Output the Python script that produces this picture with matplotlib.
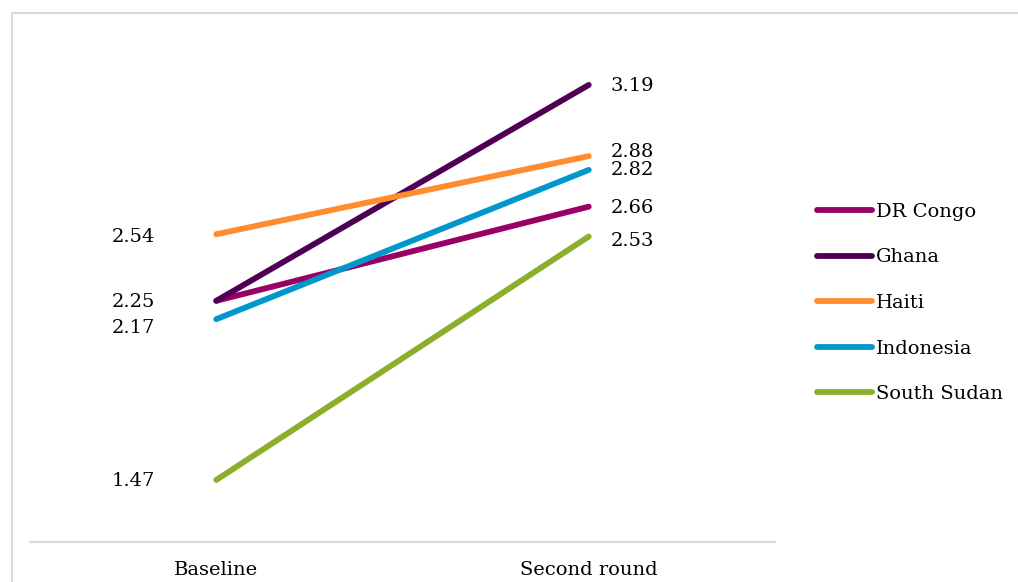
import matplotlib
matplotlib.use("Agg")
import matplotlib.pyplot as plt
from matplotlib.patches import Rectangle

plt.rcParams['font.family'] = ['DejaVu Serif']

rounds = ["Baseline", "Second round"]
countries = ["DR Congo", "Ghana", "Haiti", "Indonesia", "South Sudan"]
baseline = [2.25, 2.25, 2.54, 2.17, 1.47]
second_round = [2.66, 3.19, 2.88, 2.82, 2.53]
colors = ["#990066", "#4F0055", "#FF8C2E", "#0098CC", "#8BAF2B"]

FS = 14

# label offsets in points (dx, dy) so close values stay readable
left_offsets = {"DR Congo": None, "Ghana": (0, -1), "Haiti": (0, -2),
                "Indonesia": (0, -6), "South Sudan": (0, -1)}
right_offsets = {"DR Congo": (0, -1), "Ghana": (0, -1), "Haiti": (0, 3),
                 "Indonesia": (0, 0), "South Sudan": (0, -3)}

fig = plt.figure(figsize=(10.18, 5.82), dpi=100)
fig.patches.append(Rectangle((12 / 1018, -0.1), 1.2, 1 - 13 / 582 + 0.1,
                             transform=fig.transFigure, fill=False,
                             edgecolor="#D9D9D9", linewidth=1.5))

ax = fig.add_axes([30 / 1018, 1 - 542 / 582, 745 / 1018, (542 - 36.7) / 582])
x = [0, 1]
for name, b, s, c in zip(countries, baseline, second_round, colors):
    ax.plot(x, [b, s], color=c, linewidth=4.2, solid_capstyle="round", label=name)
    off = left_offsets[name]
    if off is not None:
        ax.annotate(f"{b:.2f}", (0, b), xytext=(-44 + off[0], off[1]),
                    textcoords="offset points", ha="right", va="center",
                    fontsize=FS)
    off = right_offsets[name]
    ax.annotate(f"{s:.2f}", (1, s), xytext=(16 + off[0], off[1]),
                textcoords="offset points", ha="left", va="center",
                fontsize=FS)

ax.set_xlim(-0.5, 1.5)
ax.set_ylim(1.2, 3.4)
ax.set_xticks(x)
ax.set_xticklabels(rounds, fontsize=FS)
ax.tick_params(axis="x", length=0, pad=14)
ax.set_yticks([])
for side in ["left", "right", "top"]:
    ax.spines[side].set_visible(False)
ax.spines["bottom"].set_color("#D9D9D9")
ax.spines["bottom"].set_linewidth(1.5)

leg = fig.legend(loc="center left", bbox_to_anchor=(809 / 1018, 1 - 303 / 582),
                 frameon=False, fontsize=FS, handlelength=2.85,
                 handletextpad=0.2, labelspacing=1.42, borderaxespad=0)

fig.savefig("out.png", dpi=100)
